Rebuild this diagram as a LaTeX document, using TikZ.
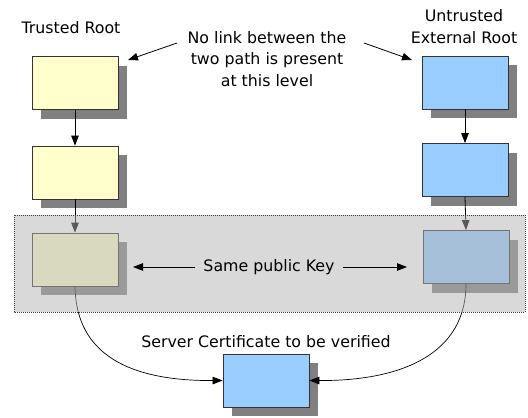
\documentclass[tikz,border=0pt]{standalone}
\usepackage{fontspec}
\setmainfont{DejaVu Sans}
\usetikzlibrary{arrows.meta,shadows}

\definecolor{trustfill}{HTML}{FFFFCC}
\definecolor{extfill}{HTML}{99CCFF}
\definecolor{shadowgray}{HTML}{808080}
\definecolor{boxline}{HTML}{333333}
\definecolor{bandgray}{RGB}{180,180,180}

\tikzset{
  cert/.style={draw=boxline, line width=0.8pt, minimum width=86pt, minimum height=53pt,
    inner sep=0pt,
    drop shadow={shadow xshift=9pt, shadow yshift=-9pt, fill=shadowgray, opacity=1}},
  trusted/.style={cert, fill=trustfill},
  external/.style={cert, fill=extfill},
  label/.style={inner sep=0pt, font=\fontsize{15.8}{21.5}\selectfont},
  arr/.style={line width=0.8pt, -{Triangle[length=10pt,width=7.5pt]}},
  curvearr/.style={line width=0.7pt, -{Triangle[length=10pt,width=7.5pt]}},
  band/.style={fill=bandgray, fill opacity=0.5, draw=black!75, draw opacity=1,
    line width=0.7pt, dash pattern=on 1pt off 1pt}
}

\begin{document}
\begin{tikzpicture}[x=1pt, y=-1pt]
  \useasboundingbox (0,0) rectangle (528,418);

  % column headings and the note between them (base = last line)
  \node[label, anchor=base] (troot) at (71,33) {Trusted Root};
  \node[label, anchor=base, align=center] (uroot) at (464,43) {Untrusted\\External Root};
  \node[label, anchor=base, align=center] (note) at (267,86) {No link between the\\two path is present\\at this level};

  % certificate chains
  \node[trusted]  (L1) at (75,83)    {};
  \node[external] (R1) at (465,82.5) {};
  \node[trusted]  (L2) at (75,172.5) {};
  \node[external] (R2) at (465,170)  {};
  \node[trusted]  (LM) at (75,259.5) {};
  \node[external] (RM) at (466,257)  {};
  \node[external] (B)  at (266,380.5) {};

  % links inside each chain
  \draw[arr] (L1) -- (L2);
  \draw[arr] (R1) -- (R2);
  \draw[arr] (L2) -- (LM);
  \draw[arr] (R2.south) -- (RM.north);

  % both chains end at the server certificate
  \draw[curvearr] (LM.south) .. controls (76,355) and (130,381) .. (B.west);
  \draw[curvearr] (RM.south) .. controls (466,355) and (400,381) .. (B.east);

  % note pointers
  \coordinate (nl0) at (177,43);
  \coordinate (nl1) at (128,60);
  \coordinate (nr0) at (364,43);
  \coordinate (nr1) at (412,60);
  \draw[arr] (nl0) -- (nl1);
  \draw[arr] (nr0) -- (nr1);

  % shaded band over the shared-key level
  \coordinate (bandA) at (14,215);
  \coordinate (bandB) at (525,312);
  \draw[band] (bandA) rectangle (bandB);

  % shared key label
  \node[label, inner xsep=8pt] (spk) at (269,267) {Same public Key};
  \coordinate (kl) at (133,267);
  \coordinate (kr) at (407,267);
  \draw[arr] (spk.west) -- (kl);
  \draw[arr] (spk.east) -- (kr);

  % server certificate caption
  \node[label, anchor=base] (srv) at (266,347) {Server Certificate to be verified};
\end{tikzpicture}
\end{document}
